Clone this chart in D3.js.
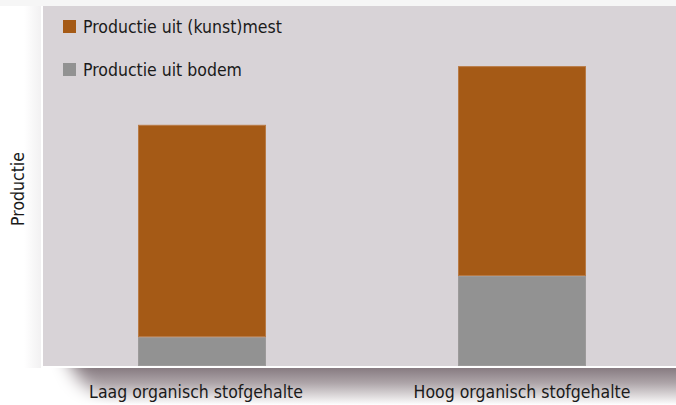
<!DOCTYPE html>
<html>
<head>
<meta charset="utf-8">
<script src="https://cdn.jsdelivr.net/npm/d3@7"></script>
<style>
  html, body { margin: 0; padding: 0; background: #fff; }
  svg { display: block; font-family: "Liberation Sans Narrow", "DejaVu Sans Condensed", sans-serif; }
</style>
</head>
<body>
<div id="chart"></div>
<script>
// categories and stacked series (arbitrary production units)
var categories = ['Laag organisch stofgehalte', 'Hoog organisch stofgehalte'];
var bodemValues = [8, 25];      // Productie uit bodem
var mestValues = [59, 58.3];    // Productie uit (kunst)mest
var seriesNames = ['Productie uit (kunst)mest', 'Productie uit bodem'];
var seriesColors = ['#a55a16', '#929292'];
var yLabel = 'Productie';

var width = 676, height = 405;
var margin = {top: 6, right: 0, bottom: 39, left: 43};
var innerW = width - margin.left - margin.right,
    innerH = height - margin.top - margin.bottom;
var fontSize = '17.5px';

var svg = d3.select('#chart').append('svg')
    .attr('width', width)
    .attr('height', height);

var defs = svg.append('defs');

// shadow under the panel: vertical gradient, faded out on the left by a soft mask
var sg = defs.append('linearGradient').attr('id', 'shadowGrad')
    .attr('gradientUnits', 'userSpaceOnUse')
    .attr('x1', 0).attr('y1', 368).attr('x2', 0).attr('y2', 405);
sg.append('stop').attr('offset', '0%').attr('stop-color', '#877b81');
sg.append('stop').attr('offset', '40%').attr('stop-color', '#ada4a8');
sg.append('stop').attr('offset', '100%').attr('stop-color', '#ffffff');

var blur = defs.append('filter').attr('id', 'soft')
    .attr('x', '-20%').attr('y', '-50%').attr('width', '140%').attr('height', '200%');
blur.append('feGaussianBlur').attr('stdDeviation', 9);

var mask = defs.append('mask').attr('id', 'shadowMask')
    .attr('maskUnits', 'userSpaceOnUse')
    .attr('x', 0).attr('y', 360).attr('width', width).attr('height', 50);
mask.append('path')
    .attr('d', 'M62,340 L720,340 L720,440 L160,440 Q85,420 62,340 Z')
    .attr('fill', '#ffffff')
    .attr('filter', 'url(#soft)');

var lg = defs.append('linearGradient').attr('id', 'leftGrad')
    .attr('x1', 0).attr('y1', 0).attr('x2', 1).attr('y2', 0);
lg.append('stop').attr('offset', '0%').attr('stop-color', '#ffffff');
lg.append('stop').attr('offset', '100%').attr('stop-color', '#f0eff0');

// page background bits
svg.append('rect').attr('x', 0).attr('y', 0).attr('width', width).attr('height', 6).attr('fill', '#f6f6f6');
svg.append('rect').attr('x', 24).attr('y', 6).attr('width', 19).attr('height', 362).attr('fill', 'url(#leftGrad)');

svg.append('rect')
    .attr('x', 0).attr('y', 366).attr('width', width).attr('height', 39)
    .attr('fill', 'url(#shadowGrad)')
    .attr('mask', 'url(#shadowMask)');

var g = svg.append('g').attr('transform', 'translate(' + margin.left + ',' + margin.top + ')');

// panel
g.append('rect')
    .attr('x', 0).attr('y', 0)
    .attr('width', innerW).attr('height', innerH)
    .attr('fill', '#d8d3d7');
g.append('line')
    .attr('x1', -2).attr('x2', innerW)
    .attr('y1', innerH + 1).attr('y2', innerH + 1)
    .attr('stroke', '#ffffff').attr('stroke-width', 2);
g.append('line')
    .attr('x1', -1).attr('x2', -1)
    .attr('y1', 0).attr('y2', innerH + 2)
    .attr('stroke', '#ffffff').attr('stroke-width', 2);

var x = d3.scaleBand()
    .domain(categories)
    .range([95, 543])
    .paddingInner(0.6)
    .paddingOuter(0);

var y = d3.scaleLinear()
    .domain([0, 100])
    .range([innerH, 0]);

var rows = categories.map(function(c, i) {
    return {cat: c, bodem: bodemValues[i], mest: mestValues[i]};
});
var stack = d3.stack().keys(['bodem', 'mest'])(rows);
var colorFor = {bodem: seriesColors[1], mest: seriesColors[0]};
var edgeFor = {bodem: '#9c9a9a', mest: '#b87a45'};

g.selectAll('g.layer')
    .data(stack)
    .join('g')
    .attr('class', 'layer')
    .attr('fill', function(d) { return colorFor[d.key]; })
    .attr('stroke', function(d) { return edgeFor[d.key]; })
    .attr('stroke-width', 1)
    .selectAll('rect')
    .data(function(d) { return d; })
    .join('rect')
    .attr('x', function(d) { return x(d.data.cat) + 0.5; })
    .attr('y', function(d) { return y(d[1]) + 0.5; })
    .attr('width', x.bandwidth() - 1)
    .attr('height', function(d) { return y(d[0]) - y(d[1]) - 1; });

// x category labels
var xAxis = d3.axisBottom(x).tickSize(0).tickPadding(0);
var xa = g.append('g')
    .attr('transform', 'translate(0,' + innerH + ')')
    .call(xAxis);
xa.select('.domain').remove();
xa.selectAll('text')
    .attr('dy', null)
    .attr('dx', function(d, i) { return i === 0 ? -6 : 0; })
    .attr('y', 32)
    .attr('fill', '#1a1a1a')
    .style('font-size', fontSize)
    .style('font-family', '"Liberation Sans Narrow", "DejaVu Sans Condensed", sans-serif');

// y axis title
svg.append('text')
    .attr('transform', 'translate(24,189) rotate(-90)')
    .attr('text-anchor', 'middle')
    .attr('fill', '#1a1a1a')
    .style('font-size', fontSize)
    .text(yLabel);

// legend
var legend = svg.append('g').attr('transform', 'translate(63,20)');
var li = legend.selectAll('g')
    .data(seriesNames)
    .join('g')
    .attr('transform', function(d, i) { return 'translate(0,' + (i * 43) + ')'; });
li.append('rect')
    .attr('width', 13).attr('height', 13)
    .attr('fill', function(d, i) { return seriesColors[i]; });
li.append('text')
    .attr('x', 20).attr('y', 13)
    .attr('fill', '#1a1a1a')
    .style('font-size', fontSize)
    .text(function(d) { return d; });
</script>
</body>
</html>
